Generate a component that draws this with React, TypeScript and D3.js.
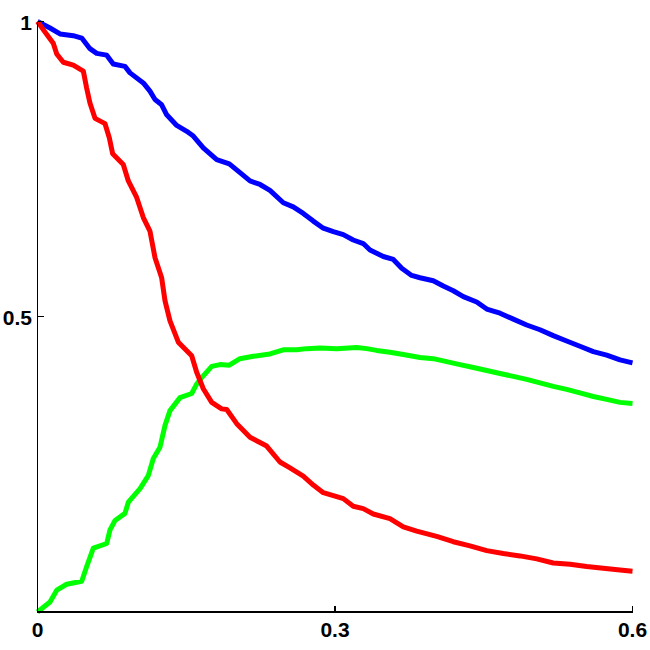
import React from "react";
import * as d3 from "d3";

const xTicks = [0, 0.3, 0.6];
const xTickLabels = ["0", "0.3", "0.6"];
const yTicks = [0.5, 1];
const yTickLabels = ["0.5", "1"];

const blue: [number, number][] = [
  [0, 1.0], [0.0126, 0.989], [0.0227, 0.979], [0.0361, 0.976], [0.0446, 0.972],
  [0.0529, 0.954], [0.0597, 0.946], [0.0698, 0.943], [0.0764, 0.928], [0.0882, 0.924],
  [0.0933, 0.913], [0.1067, 0.896], [0.1134, 0.882], [0.1185, 0.868], [0.1252, 0.859],
  [0.1303, 0.842], [0.1404, 0.824], [0.1505, 0.814], [0.1571, 0.806], [0.1672, 0.786],
  [0.1807, 0.766], [0.1934, 0.759], [0.2042, 0.744], [0.2143, 0.73], [0.2244, 0.724],
  [0.2344, 0.714], [0.2479, 0.693], [0.2579, 0.686], [0.268, 0.675], [0.2781, 0.662],
  [0.2882, 0.65], [0.2983, 0.644], [0.3084, 0.639], [0.3184, 0.63], [0.3285, 0.624],
  [0.3353, 0.613], [0.3487, 0.602], [0.3588, 0.597], [0.3673, 0.582], [0.3773, 0.57],
  [0.3857, 0.566], [0.3991, 0.561], [0.4092, 0.552], [0.4193, 0.544], [0.4294, 0.534],
  [0.4429, 0.525], [0.453, 0.513], [0.4664, 0.506], [0.4798, 0.496], [0.4933, 0.486],
  [0.5067, 0.478], [0.5201, 0.468], [0.5336, 0.459], [0.547, 0.45], [0.5605, 0.441],
  [0.574, 0.435], [0.5874, 0.427], [0.6, 0.422],
];

const red: [number, number][] = [
  [0, 1.0], [0.0076, 0.982], [0.0159, 0.963], [0.0194, 0.945], [0.026, 0.931],
  [0.0361, 0.926], [0.0462, 0.916], [0.0496, 0.887], [0.0529, 0.862], [0.058, 0.836],
  [0.0681, 0.827], [0.0724, 0.803], [0.0758, 0.776], [0.0865, 0.758], [0.0916, 0.73],
  [0.1, 0.702], [0.1067, 0.668], [0.1134, 0.645], [0.1185, 0.6], [0.1252, 0.566],
  [0.1286, 0.527], [0.1336, 0.493], [0.142, 0.457], [0.1555, 0.434], [0.1605, 0.406],
  [0.1672, 0.378], [0.1757, 0.355], [0.1857, 0.344], [0.1908, 0.343], [0.2009, 0.319],
  [0.2143, 0.296], [0.2311, 0.281], [0.2445, 0.254], [0.2546, 0.244], [0.268, 0.23],
  [0.2781, 0.215], [0.2882, 0.202], [0.3084, 0.192], [0.3184, 0.179], [0.3285, 0.175],
  [0.3386, 0.166], [0.3554, 0.158], [0.3689, 0.144], [0.3824, 0.137], [0.4025, 0.128],
  [0.4193, 0.119], [0.4361, 0.112], [0.453, 0.104], [0.4697, 0.099], [0.4865, 0.095],
  [0.5034, 0.09], [0.5201, 0.083], [0.537, 0.081], [0.5538, 0.077], [0.5705, 0.074],
  [0.5874, 0.071], [0.6, 0.069],
];

const green: [number, number][] = [
  [0, 0], [0.0126, 0.017], [0.0194, 0.037], [0.0294, 0.047], [0.0446, 0.052],
  [0.0496, 0.077], [0.0563, 0.108], [0.0698, 0.116], [0.0731, 0.139], [0.0782, 0.155],
  [0.0882, 0.167], [0.0916, 0.186], [0.1034, 0.209], [0.1117, 0.231], [0.1168, 0.26],
  [0.1235, 0.279], [0.1286, 0.316], [0.1336, 0.341], [0.1437, 0.363], [0.1555, 0.37],
  [0.1605, 0.386], [0.1672, 0.4], [0.1757, 0.416], [0.184, 0.419], [0.1934, 0.418],
  [0.2042, 0.429], [0.2176, 0.433], [0.2344, 0.437], [0.2479, 0.444], [0.2614, 0.444],
  [0.2715, 0.446], [0.2849, 0.447], [0.3017, 0.446], [0.3219, 0.448], [0.332, 0.446],
  [0.342, 0.443], [0.3554, 0.44], [0.3689, 0.436], [0.3857, 0.431], [0.3991, 0.429],
  [0.4126, 0.424], [0.426, 0.419], [0.4395, 0.414], [0.453, 0.409], [0.4664, 0.404],
  [0.4798, 0.399], [0.4933, 0.394], [0.5067, 0.388], [0.5201, 0.382], [0.5336, 0.377],
  [0.547, 0.371], [0.5605, 0.365], [0.574, 0.36], [0.5874, 0.355], [0.6, 0.353],
];

const series = [
  { name: "blue", data: blue, color: "#0000ff" },
  { name: "green", data: green, color: "#00ff00" },
  { name: "red", data: red, color: "#ff0000" },
];

export default function App() {
  const W = 650;
  const H = 650;
  const x = d3.scaleLinear().domain([0, 0.6]).range([37.5, 632.5]);
  const y = d3.scaleLinear().domain([0, 1]).range([612, 21.5]);
  const line = d3
    .line<[number, number]>()
    .x((d) => x(d[0]))
    .y((d) => y(d[1]));
  const font = "'Liberation Sans', Arial, sans-serif";
  return (
    <svg
      width={W}
      height={H}
      style={{ position: "absolute", left: 0, top: 0, background: "#fff" }}
    >
      <rect x={0} y={0} width={W} height={H} fill="#fff" />
      {series.map((s) => (
        <path
          key={s.name}
          d={line(s.data) || ""}
          fill="none"
          stroke={s.color}
          strokeWidth={5}
          strokeLinejoin="round"
          strokeLinecap="butt"
        />
      ))}
      <line x1={x(0)} x2={x(0)} y1={y(1)} y2={y(0) + 0.5} stroke="#000" strokeWidth={1.2} shapeRendering="crispEdges" />
      <line x1={x(0)} x2={x(0.6)} y1={y(0)} y2={y(0)} stroke="#000" strokeWidth={1.2} shapeRendering="crispEdges" />
      {xTicks.map((t, i) => (
        <g key={"xt" + i}>
          <line x1={x(t)} x2={x(t)} y1={y(0)} y2={y(0) - 6} stroke="#000" strokeWidth={1.2} shapeRendering="crispEdges" />
          <text
            x={x(t)}
            y={637}
            textAnchor="middle"
            fontFamily={font}
            fontWeight="bold"
            fontSize={21}
            fill="#000"
          >
            {xTickLabels[i]}
          </text>
        </g>
      ))}
      {yTicks.map((t, i) => (
        <g key={"yt" + i}>
          <line x1={x(0)} x2={x(0) + 6} y1={y(t)} y2={y(t)} stroke="#000" strokeWidth={1.2} shapeRendering="crispEdges" />
          <text
            x={32}
            y={y(t) + 1}
            textAnchor="end"
            dominantBaseline="central"
            fontFamily={font}
            fontWeight="bold"
            fontSize={21}
            fill="#000"
          >
            {yTickLabels[i]}
          </text>
        </g>
      ))}
    </svg>
  );
}
